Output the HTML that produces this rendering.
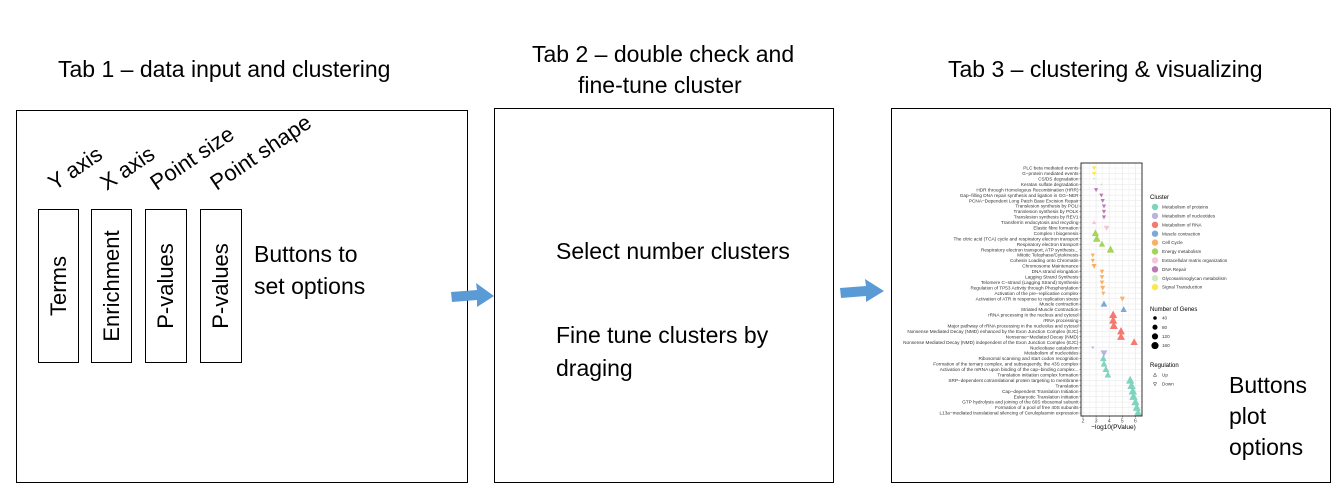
<!DOCTYPE html>
<html><head><meta charset="utf-8"><style>
body{margin:0;width:1341px;height:495px;background:#fff;overflow:hidden;font-family:"Liberation Sans",sans-serif;}
.abs{position:absolute;}
.t{font-size:23px;color:#000;white-space:nowrap;}
.box{position:absolute;border:1.5px solid #000;box-sizing:border-box;}
.btn{position:absolute;border:1px solid #000;box-sizing:border-box;}
.vt{position:absolute;left:50%;top:50%;transform:translate(-50%,-50%) rotate(-90deg);font-size:22px;white-space:nowrap;}
.rt{position:absolute;font-size:22px;white-space:nowrap;transform-origin:0 100%;transform:rotate(-34deg);}
</style></head><body>
<div class="abs t" style="left:58px;top:56px;">Tab 1 – data input and clustering</div>
<div class="abs t" style="left:532px;top:41px;">Tab 2 – double check and</div>
<div class="abs t" style="left:578px;top:72px;">fine-tune cluster</div>
<div class="abs t" style="left:948px;top:56px;">Tab 3 – clustering &amp; visualizing</div>

<div class="box" style="left:16px;top:110px;width:452px;height:373px;"></div>
<div class="box" style="left:494px;top:108px;width:340px;height:375px;"></div>
<div class="box" style="left:891px;top:108px;width:440px;height:375px;"></div>

<div class="rt" style="left:58px;top:170px;">Y axis</div>
<div class="rt" style="left:110px;top:170px;">X axis</div>
<div class="rt" style="left:160px;top:170px;">Point size</div>
<div class="rt" style="left:220px;top:170px;">Point shape</div>

<div class="btn" style="left:38px;top:209px;width:41px;height:154px;"><span class="vt">Terms</span></div>
<div class="btn" style="left:91px;top:209px;width:41px;height:154px;"><span class="vt">Enrichment</span></div>
<div class="btn" style="left:145px;top:209px;width:42px;height:154px;"><span class="vt">P-values</span></div>
<div class="btn" style="left:200px;top:209px;width:42px;height:154px;"><span class="vt">P-values</span></div>
<div class="abs t" style="left:254px;top:238px;line-height:32px;">Buttons to<br>set options</div>

<div class="abs t" style="left:556px;top:238px;">Select number clusters</div>
<div class="abs t" style="left:556px;top:319px;line-height:33px;">Fine tune clusters by<br>draging</div>
<div class="abs t" style="left:1229px;top:370px;line-height:31px;">Buttons<br>plot<br>options</div>

<svg class="abs" style="left:0;top:0" width="1341" height="495">
<polygon points="451,292 477,290 476,283 494,296 477,307 477,300 452,302" fill="#5B9BD5"/>
<polygon points="840,288 866,286 865,279 884,291 866,302 866,296 841,298" fill="#5B9BD5"/>
</svg>

<svg id="chart" class="abs" style="left:0;top:0" width="1341" height="495"></svg>
<script>
const terms=["PLC beta mediated events","G−protein mediated events","CS/DS degradation","Keratan sulfate degradation","HDR through Homologous Recombination (HRR)","Gap−filling DNA repair synthesis and ligation in GG−NER","PCNA−Dependent Long Patch Base Excision Repair","Translesion synthesis by POLI","Translesion synthesis by POLK","Translesion synthesis by REV1","Transferrin endocytosis and recycling","Elastic fibre formation","Complex I biogenesis","The citric acid (TCA) cycle and respiratory electron transport","Respiratory electron transport","Respiratory electron transport, ATP synthesis...","Mitotic Telophase/Cytokinesis","Cohesin Loading onto Chromatin","Chromosome Maintenance","DNA strand elongation","Lagging Strand Synthesis","Telomere C−strand (Lagging Strand) Synthesis","Regulation of TP53 Activity through Phosphorylation","Activation of the pre−replicative complex","Activation of ATR in response to replication stress","Muscle contraction","Striated Muscle Contraction","rRNA processing in the nucleus and cytosol","rRNA processing","Major pathway of rRNA processing in the nucleolus and cytosol","Nonsense Mediated Decay (NMD) enhanced by the Exon Junction Complex (EJC)","Nonsense−Mediated Decay (NMD)","Nonsense Mediated Decay (NMD) independent of the Exon Junction Complex (EJC)","Nucleobase catabolism","Metabolism of nucleotides","Ribosomal scanning and start codon recognition","Formation of the ternary complex, and subsequently, the 43S complex","Activation of the mRNA upon binding of the cap−binding complex...","Translation initiation complex formation","SRP−dependent cotranslational protein targeting to membrane","Translation","Cap−dependent Translation Initiation","Eukaryotic Translation Initiation","GTP hydrolysis and joining of the 60S ribosomal subunit","Formation of a pool of free 40S subunits","L13a−mediated translational silencing of Ceruloplasmin expression"];
const pvals=[2.85,2.85,2.85,3.4,3.0,3.4,3.5,3.6,3.6,3.6,2.85,3.8,2.95,3.05,3.45,4.1,2.75,2.75,2.85,3.45,3.45,3.45,3.5,3.55,5.0,3.6,5.1,4.3,4.3,4.35,4.9,4.9,5.9,2.75,3.6,3.55,3.6,3.75,3.9,5.6,5.7,5.8,5.85,6.0,6.1,6.2];
const genes=[40,40,15,15,40,40,40,40,40,40,40,70,120,130,90,130,40,40,60,50,50,50,60,40,60,100,90,150,150,150,140,140,120,20,110,100,100,100,100,160,160,160,160,150,150,150];
const regulation=["down","down","down","up","down","down","down","down","down","down","up","down","up","up","up","up","down","down","down","down","down","down","down","down","down","up","up","up","up","up","up","up","up","down","down","up","up","up","up","up","up","up","up","up","up","up"];
const clusterOf=[9,9,8,8,7,7,7,7,7,7,6,6,5,5,5,5,4,4,4,4,4,4,4,4,4,3,3,2,2,2,2,2,2,1,1,0,0,0,0,0,0,0,0,0,0,0];
const clusterNames=["Metabolism of proteins","Metabolism of nucleotides","Metabolism of RNA","Muscle contraction","Cell Cycle","Energy metabolism","Extracellular matrix organization","DNA Repair","Glycosaminoglycan metabolism","Signal Transduction"];
const clusterColors=["#80d3be","#bbb3dd","#f47a6f","#7ea8d6","#fbb064","#a5d45a","#f8c3dc","#bb79b8","#cfe9c5","#fde74f"];
const xTicks=[2,3,4,5,6];
const sizeLegend=[40,80,120,160];

const NS="http://www.w3.org/2000/svg";
const svg=document.getElementById('chart');
const PL=1081,PR=1142,PT=163,PB=416;
const xMin=1.85,xMax=6.5;
function xs(v){return PL+(v-xMin)/(xMax-xMin)*(PR-PL);}
function ys(i){return PT+5+i*(PB-PT-8)/(terms.length-1);}
function rs(n){return Math.sqrt(n)/3.0;}
function mk(tag,attrs){const e=document.createElementNS(NS,tag);for(const k in attrs)e.setAttribute(k,attrs[k]);svg.appendChild(e);return e;}
function tri(cx,cy,r,up){const h=r*1.1;return up?`${cx},${cy-h} ${cx-r},${cy+h*0.7} ${cx+r},${cy+h*0.7}`:`${cx},${cy+h} ${cx-r},${cy-h*0.7} ${cx+r},${cy-h*0.7}`;}

let bg=mk('rect',{x:PL,y:PT,width:PR-PL,height:PB-PT,fill:'#fff'});


for(let v=2;v<=6.5;v+=0.5){const g=mk('line',{x1:xs(v),x2:xs(v),y1:PT,y2:PB,stroke:'#ebebeb','stroke-width':v%1?0.4:0.8});

}
terms.forEach((t,i)=>{const g=mk('line',{x1:PL,x2:PR,y1:ys(i),y2:ys(i),stroke:'#ebebeb','stroke-width':0.6});


const lb=mk('text',{x:PL-2.5,y:ys(i)+1.6,'text-anchor':'end','font-size':4.7,fill:'#333'});lb.textContent=t;


const tk=mk('line',{x1:PL-1.5,x2:PL,y1:ys(i),y2:ys(i),stroke:'#333','stroke-width':0.5});

});
terms.forEach((t,i)=>{const p=mk('polygon',{points:tri(xs(pvals[i]),ys(i),rs(genes[i]),regulation[i]==='up'),fill:clusterColors[clusterOf[i]]});

});
let fr=mk('rect',{x:PL,y:PT,width:PR-PL,height:PB-PT,fill:'none',stroke:'#333','stroke-width':1});


xTicks.forEach(v=>{const tk=mk('line',{x1:xs(v),x2:xs(v),y1:PB,y2:PB+1.5,stroke:'#333','stroke-width':0.5});


const tl=mk('text',{x:xs(v),y:PB+6.5,'text-anchor':'middle','font-size':5,fill:'#444'});tl.textContent=v;

});
let xt=mk('text',{x:(PL+PR)/2+2,y:PB+13,'text-anchor':'middle','font-size':6.5,fill:'#000'});xt.textContent='−log10(PValue)';



const LX=1150;
let ct=mk('text',{x:LX,y:199,'font-size':6,fill:'#000'});ct.textContent='Cluster';


clusterNames.forEach((n,i)=>{const y=207+i*8.9;
const c=mk('circle',{cx:LX+5,cy:y,r:3.2,fill:clusterColors[i]});


const t=mk('text',{x:LX+12,y:y+1.6,'font-size':4.6,fill:'#333'});t.textContent=n;

});
let gt=mk('text',{x:LX,y:311,'font-size':6,fill:'#000'});gt.textContent='Number of Genes';


sizeLegend.forEach((n,i)=>{const y=318+i*9.2;
const c=mk('circle',{cx:LX+5,cy:y,r:rs(n)*0.85,fill:'#000'});


const t=mk('text',{x:LX+12,y:y+1.6,'font-size':4.6,fill:'#333'});t.textContent=n;

});
let rt=mk('text',{x:LX,y:367,'font-size':6,fill:'#000'});rt.textContent='Regulation';


["Up","Down"].forEach((n,i)=>{const y=375+i*9;
const p=mk('polygon',{points:tri(LX+5,y,1.6,i===0),fill:'none',stroke:'#333','stroke-width':0.5});


const t=mk('text',{x:LX+12,y:y+1.6,'font-size':4.6,fill:'#333'});t.textContent=n;

});
</script>
</body></html>
